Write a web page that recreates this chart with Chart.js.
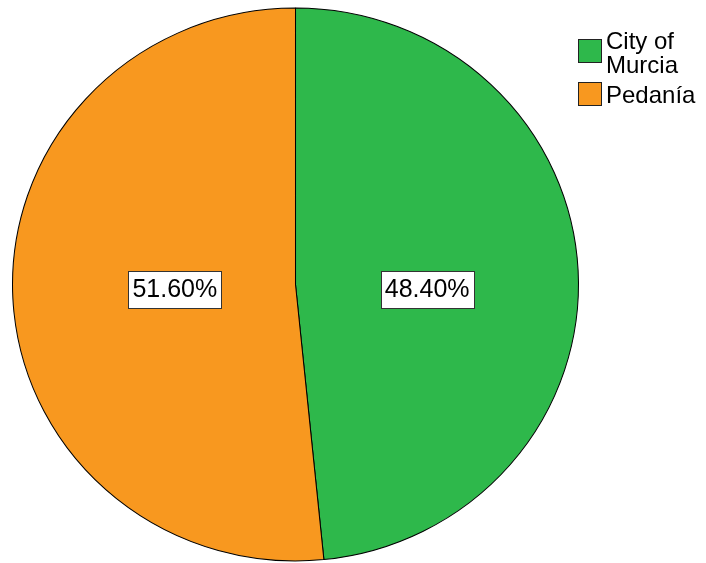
<!DOCTYPE html>
<html>
<head>
<meta charset="utf-8">
<script src="https://cdn.jsdelivr.net/npm/chart.js@4.4.1/dist/chart.umd.min.js"></script>
<style>
    body { margin: 0; background: #ffffff; }
    #wrap { position: relative; width: 706px; height: 563px; }
</style>
</head>
<body>
<div id="wrap"><canvas id="pieChart" width="706" height="563"></canvas></div>
<script>
// Data
const categories = [['City of', 'Murcia'], ['Pedanía']];
const percentages = [48.4, 51.6];
const sliceColors = ['#2EB84B', '#F8981F'];

const FONT = "Arial, 'Liberation Sans', sans-serif";

// The reference pie is slightly wider than tall, stretch it horizontally
const ellipsePlugin = {
    id: 'ellipse',
    beforeDatasetsDraw(chart, args, opts) {
        const arc = chart.getDatasetMeta(0).data[0];
        const ctx = chart.ctx;
        ctx.save();
        ctx.translate(arc.x, arc.y);
        ctx.scale(opts.scaleX, 1);
        ctx.translate(-arc.x, -arc.y);
    },
    afterDatasetsDraw(chart) {
        chart.ctx.restore();
    }
};

// Boxed percentage labels inside each slice
const sliceLabels = {
    id: 'sliceLabels',
    afterDatasetsDraw(chart, args, opts) {
        const ctx = chart.ctx;
        const meta = chart.getDatasetMeta(0);
        const scaleX = chart.options.plugins.ellipse.scaleX;
        ctx.save();
        ctx.font = opts.fontSize + 'px ' + FONT;
        ctx.textAlign = 'center';
        ctx.textBaseline = 'middle';
        meta.data.forEach((arc, i) => {
            const mid = (arc.startAngle + arc.endAngle) / 2;
            const x = arc.x + Math.cos(mid) * arc.outerRadius * scaleX * opts.radial[i];
            const y = arc.y + opts.offsetY;
            const text = percentages[i].toFixed(2) + '%';
            const w = ctx.measureText(text).width + 8;
            const h = 37;
            ctx.fillStyle = '#ffffff';
            ctx.fillRect(Math.round(x - w / 2) + 0.5, Math.round(y - h / 2) + 0.5, Math.round(w), h);
            ctx.strokeStyle = '#333333';
            ctx.lineWidth = 1;
            ctx.strokeRect(Math.round(x - w / 2) + 0.5, Math.round(y - h / 2) + 0.5, Math.round(w), h);
            ctx.fillStyle = '#000000';
            ctx.fillText(text, x, y + 1);
        });
        ctx.restore();
    }
};

// Legend at the top right, drawn by hand so the wrapped label fits
const sideLegend = {
    id: 'sideLegend',
    afterDraw(chart, args, opts) {
        const ctx = chart.ctx;
        const colors = chart.data.datasets[0].backgroundColor;
        ctx.save();
        ctx.font = opts.fontSize + 'px ' + FONT;
        ctx.textAlign = 'left';
        ctx.textBaseline = 'alphabetic';
        let capTop = opts.top;
        categories.forEach((lines, i) => {
            const n = lines.length;
            const capMid = capTop + 8.8 + (n - 1) * opts.lineHeight / 2 - (n - 1) * 2.5;
            const boxTop = Math.round(capMid - opts.box / 2) + 0.5;
            ctx.fillStyle = colors[i];
            ctx.fillRect(opts.x + 0.5, boxTop, opts.box, opts.box);
            ctx.strokeStyle = '#222222';
            ctx.lineWidth = 1;
            ctx.strokeRect(opts.x + 0.5, boxTop, opts.box, opts.box);
            ctx.fillStyle = '#000000';
            lines.forEach((line, j) => {
                ctx.fillText(line, opts.x + opts.box + 5, capTop + 17.6 + j * opts.lineHeight);
            });
            capTop += n * opts.lineHeight + opts.gap;
        });
        ctx.restore();
    }
};

const ctx = document.getElementById('pieChart').getContext('2d');
new Chart(ctx, {
    type: 'pie',
    data: {
        labels: categories.map(l => l.join(' ')),
        datasets: [{
            data: percentages,
            backgroundColor: sliceColors,
            borderColor: '#000000',
            borderWidth: 1
        }]
    },
    options: {
        responsive: false,
        animation: false,
        layout: { padding: { left: 12, right: 127, top: 7.5, bottom: 1.5 } },
        plugins: {
            legend: { display: false },
            tooltip: { enabled: false },
            ellipse: { scaleX: 283.5 / 277 },
            sliceLabels: { fontSize: 25, radial: [0.466, 0.427], offsetY: 4.5 },
            sideLegend: { x: 578, top: 31.7, box: 23, lineHeight: 24, gap: 5.4, fontSize: 24 }
        }
    },
    plugins: [ellipsePlugin, sliceLabels, sideLegend]
});
</script>
</body>
</html>
